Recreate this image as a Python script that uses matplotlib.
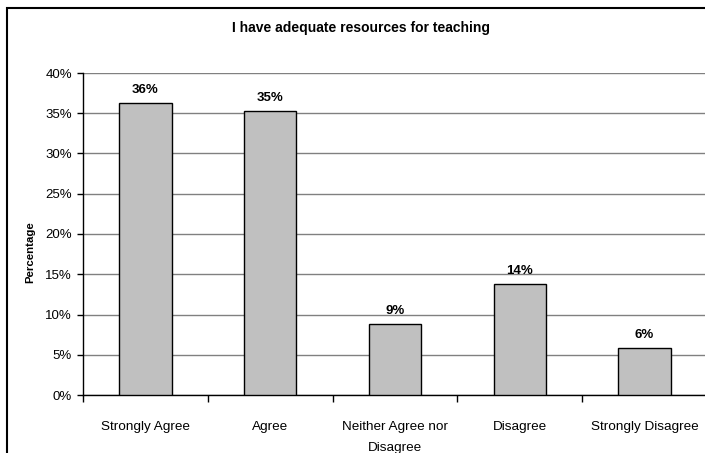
import numpy as np
import matplotlib
matplotlib.use('Agg')
import matplotlib.pyplot as plt
from matplotlib.patches import Rectangle
from matplotlib.ticker import PercentFormatter

plt.rcParams['font.family'] = ['Liberation Sans', 'DejaVu Sans']

categorias = ['Strongly Agree', 'Agree', 'Neither Agree nor\nDisagree', 'Disagree', 'Strongly Disagree']
valores = [36.3, 35.3, 8.8, 13.75, 5.9]
rotulos = ['36%', '35%', '9%', '14%', '6%']
titulo = 'I have adequate resources for teaching'

fig = plt.figure(figsize=(7.05, 4.53), dpi=100)
ax = fig.add_axes([83 / 705, 1 - 395 / 453, 624 / 705, 322 / 453])

x = np.arange(len(categorias))
ax.bar(x, valores, width=0.42, color='#C0C0C0', edgecolor='black', linewidth=1, zorder=3)

for xi, v, r in zip(x, valores, rotulos):
    ax.annotate(r, (xi, v), xytext=(0, 5), textcoords='offset points',
                ha='center', va='bottom', fontsize=9.5, fontweight='bold')

ax.set_xlim(-0.5, 4.5)
ax.set_ylim(0, 40)
ax.set_yticks(np.arange(0, 41, 5))
ax.yaxis.set_major_formatter(PercentFormatter(decimals=0))
ax.grid(axis='y', color='#808080', linewidth=1, zorder=0)

# ticks nas divisas das categorias, rotulos no centro
ax.set_xticks(np.arange(-0.5, 5, 1))
ax.set_xticklabels([])
ax.set_xticks(x, minor=True)
ax.set_xticklabels(categorias, minor=True, fontsize=9.7, linespacing=1.95)
ax.tick_params(axis='x', which='major', length=5, width=1, direction='out')
ax.tick_params(axis='x', which='minor', length=0, pad=19)
ax.tick_params(axis='y', length=4, width=1, pad=4, labelsize=9.5)

for s in ['top', 'right']:
    ax.spines[s].set_visible(False)
ax.spines['left'].set_linewidth(1)
ax.spines['bottom'].set_linewidth(1)

fig.text(361 / 705, 1 - 28 / 453, titulo, ha='center', va='center',
         fontsize=10, fontweight='bold')
fig.text(30 / 705, 1 - 252 / 453, 'Percentage', rotation=90, ha='center', va='center',
         fontsize=8.2, fontweight='bold')

# moldura do grafico
fig.patches.append(Rectangle((7 / 705, -0.05), 1.0, 1 - 8 / 453 + 0.05,
                             transform=fig.transFigure, fill=False,
                             edgecolor='black', linewidth=1.5))

fig.savefig('out.png', dpi=100)
